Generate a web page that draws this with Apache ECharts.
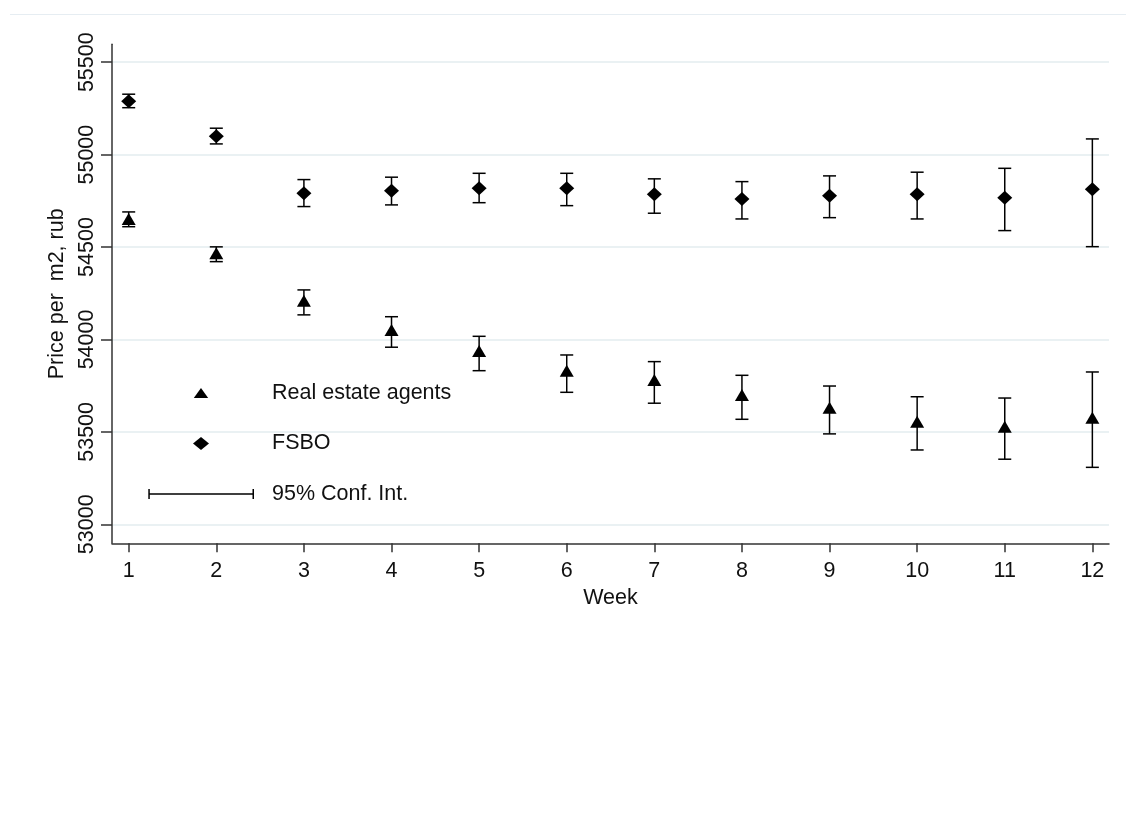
<!DOCTYPE html>
<html>
<head>
<meta charset="utf-8">
<script src="https://cdn.jsdelivr.net/npm/echarts@6/dist/echarts.min.js"></script>
<style>
html,body{margin:0;padding:0;background:#fff;}
#chart{width:1126px;height:826px;}
</style>
</head>
<body>
<div id="chart"></div>
<script>
var weeks = [1,2,3,4,5,6,7,8,9,10,11,12];
var agentsMean = [54652,54466,54210,54051,53938,53831,53781,53700,53631,53555,53528,53577];
var agentsLow  = [54610,54421,54133,53958,53831,53714,53655,53568,53489,53402,53352,53308];
var agentsHigh = [54690,54501,54268,54123,54017,53916,53880,53806,53748,53690,53683,53824];
var fsboMean = [55289,55100,54791,54805,54818,54818,54786,54760,54777,54786,54767,54813];
var fsboLow  = [55254,55058,54719,54728,54740,54724,54683,54652,54659,54652,54589,54502];
var fsboHigh = [55327,55143,54865,54878,54899,54899,54869,54854,54885,54905,54926,55085];
var yTicks = [53000,53500,54000,54500,55000,55500];
var xTicks = weeks;

var FONT = "'Liberation Sans', Arial, sans-serif";
var TXT = '#111';

function pairs(xs, ys){ return xs.map(function(x,i){ return [x, ys[i]]; }); }
var ciData = weeks.map(function(w,i){ return [w, agentsLow[i], agentsHigh[i]]; })
  .concat(weeks.map(function(w,i){ return [w, fsboLow[i], fsboHigh[i]]; }));

// legend icons drawn in a 119x14 box (corner points keep box size)
var box = 'M0,0L0,0M119,14L119,14';
var triIcon = 'path://' + box + 'M45.8,12L53,2L60.2,12Z';
var diaIcon = 'path://' + box + 'M45,7L53,0.4L61,7L53,13.6Z';
var ciIcon  = 'path://' + box + 'M0.3,2H1.8V12H0.3ZM0.3,6.35H106V7.65H0.3ZM104.5,2H106V12H104.5Z';

var chart = echarts.init(document.getElementById('chart'), null, {renderer:'canvas'});
chart.setOption({
  animation: false,
  backgroundColor: '#fff',
  textStyle: {fontFamily: FONT},
  graphic: [{
    type: 'line', silent: true,
    shape: {x1: 10, y1: 14.5, x2: 1126, y2: 14.5},
    style: {stroke: '#e6edf2', lineWidth: 1}
  }],
  grid: {left: 112, right: 17, top: 44.3, bottom: 282.7, containLabel: false},
  legend: {
    orient: 'vertical', left: 148, top: 382, padding: 0,
    itemWidth: 119, itemHeight: 14, itemGap: 28.5,
    selectedMode: false, symbolKeepAspect: true,
    textStyle: {fontSize: 21.5, color: TXT, fontFamily: FONT},
    data: [
      {name: 'Real estate agents', icon: triIcon, itemStyle: {color: '#000'}},
      {name: 'FSBO', icon: diaIcon, itemStyle: {color: '#000'}},
      {name: '95% Conf. Int.', icon: ciIcon, itemStyle: {color: '#000'}}
    ]
  },
  xAxis: {
    type: 'value', min: 0.8094, max: 12.19,
    name: 'Week', nameLocation: 'middle', nameGap: 39,
    nameTextStyle: {fontSize: 21.5, color: TXT, fontFamily: FONT},
    axisLine: {show: true, lineStyle: {color: '#333', width: 1.5}},
    axisTick: {show: true, length: 9, lineStyle: {color: '#333', width: 1.5}, customValues: xTicks},
    axisLabel: {show: true, margin: 17, fontSize: 21.5, color: TXT, fontFamily: FONT, customValues: xTicks,
      formatter: function(v){ return String(v); }},
    splitLine: {show: false}
  },
  yAxis: {
    type: 'value', min: 52897, max: 55597,
    name: 'Price per  m2, rub', nameLocation: 'middle', nameGap: 43, nameRotate: 90,
    nameTextStyle: {fontSize: 21.5, color: TXT, fontFamily: FONT},
    axisLine: {show: true, lineStyle: {color: '#333', width: 1.5}},
    axisTick: {show: true, length: 11, lineStyle: {color: '#333', width: 1.5}, customValues: yTicks},
    axisLabel: {show: true, rotate: 90, margin: 14, fontSize: 21.5, color: TXT, fontFamily: FONT, customValues: yTicks,
      formatter: function(v){ return String(v); }},
    splitLine: {show: true, lineStyle: {color: '#e3ecef', width: 1.5}}
  },
  series: [
    {
      name: '95% Conf. Int.', type: 'custom', z: 2,
      itemStyle: {color: '#000'},
      encode: {x: 0, y: [1, 2]},
      data: ciData,
      renderItem: function(params, api){
        var x = api.value(0);
        var top = api.coord([x, api.value(2)]);
        var bot = api.coord([x, api.value(1)]);
        var hw = 6.5;
        var st = {stroke: '#000', lineWidth: 1.5};
        return {type: 'group', children: [
          {type: 'line', shape: {x1: top[0], y1: top[1], x2: bot[0], y2: bot[1]}, style: st},
          {type: 'line', shape: {x1: top[0]-hw, y1: top[1], x2: top[0]+hw, y2: top[1]}, style: st},
          {type: 'line', shape: {x1: bot[0]-hw, y1: bot[1], x2: bot[0]+hw, y2: bot[1]}, style: st}
        ]};
      }
    },
    {
      name: 'Real estate agents', type: 'scatter', z: 3,
      symbol: 'triangle', symbolSize: [14, 12],
      itemStyle: {color: '#000', opacity: 1},
      data: pairs(weeks, agentsMean)
    },
    {
      name: 'FSBO', type: 'scatter', z: 3,
      symbol: 'diamond', symbolSize: [15, 14],
      itemStyle: {color: '#000', opacity: 1},
      data: pairs(weeks, fsboMean)
    }
  ]
});
</script>
</body>
</html>
